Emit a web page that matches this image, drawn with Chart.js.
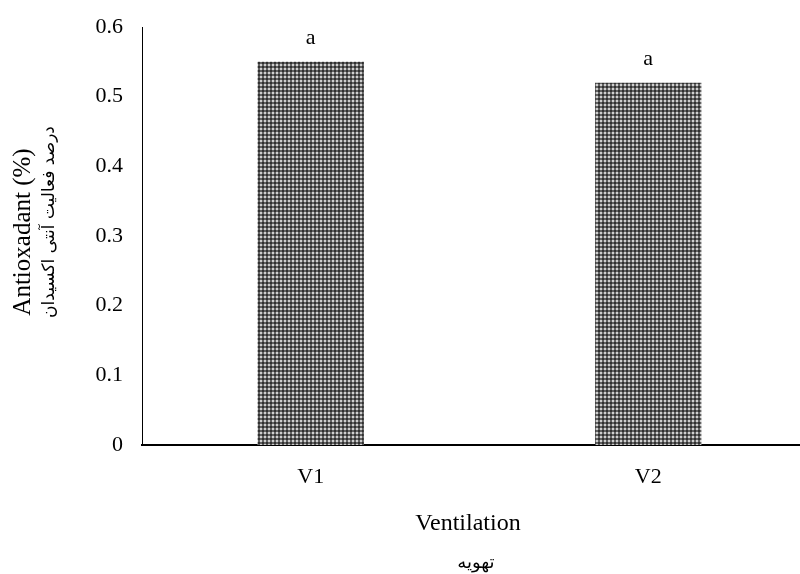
<!DOCTYPE html>
<html>
<head>
<meta charset="utf-8">
<script src="https://cdn.jsdelivr.net/npm/chart.js@4.4.1/dist/chart.umd.min.js"></script>
<style>
  html, body { margin: 0; padding: 0; background: #fff; overflow: hidden; }
  #wrap { width: 817px; height: 574px; position: relative; }
</style>
</head>
<body>
<div id="wrap"><canvas id="c"></canvas></div>
<script>
// Antioxidant activity by ventilation treatment
const categories = ['V1', 'V2'];
const antioxidant = [0.55, 0.52];
const significance = ['a', 'a'];
const yTicks = [0, 0.1, 0.2, 0.3, 0.4, 0.5, 0.6];

const xTitle = 'Ventilation';
const xTitleFa = 'تهویه';
const yTitle = 'Antioxadant (%)';
const yTitleFa = 'درصد فعالیت آنتی اکسیدان';

const SERIF = '"Liberation Serif", "Times New Roman", serif';
const ARABIC = '"DejaVu Sans", sans-serif';

// plot area edges wanted on the page
const PLOT_TOP = 27;
const PLOT_BOTTOM = 445;

// dotted grey fill for the bars
function makePattern() {
  const t = document.createElement('canvas');
  t.width = 4; t.height = 4;
  const g = t.getContext('2d');
  g.fillStyle = '#626262';
  g.fillRect(0, 0, 4, 4);
  g.fillStyle = '#cfcfcf';
  g.fillRect(0, 0, 2, 2);
  g.fillStyle = '#303030';
  g.fillRect(2, 2, 2, 2);
  return document.getElementById('c').getContext('2d').createPattern(t, 'repeat');
}

const labelsPlugin = {
  id: 'labelsPlugin',
  afterDatasetsDraw(chart) {
    const ctx = chart.ctx;
    const meta = chart.getDatasetMeta(0);
    ctx.save();
    ctx.fillStyle = '#000';
    ctx.textAlign = 'center';
    ctx.textBaseline = 'middle';
    ctx.font = '22px ' + SERIF;
    meta.data.forEach((bar, i) => {
      ctx.fillText(significance[i], bar.x, bar.y - 24);
    });
    // x axis titles
    ctx.font = '24px ' + SERIF;
    ctx.fillText(xTitle, 468, 524);
    ctx.font = '18px ' + ARABIC;
    ctx.fillText(xTitleFa, 476, 563);
    // y axis titles
    ctx.translate(23, 232);
    ctx.rotate(-Math.PI / 2);
    ctx.font = '25px ' + SERIF;
    ctx.fillText(yTitle, 0, 0);
    ctx.restore();
    ctx.save();
    ctx.fillStyle = '#000';
    ctx.textAlign = 'center';
    ctx.textBaseline = 'middle';
    ctx.translate(50, 222);
    ctx.rotate(-Math.PI / 2);
    ctx.font = '17px ' + ARABIC;
    ctx.fillText(yTitleFa, 0, 0);
    ctx.restore();
  }
};

const chart = new Chart(document.getElementById('c'), {
  type: 'bar',
  data: {
    labels: categories,
    datasets: [{
      data: antioxidant,
      backgroundColor: makePattern(),
      borderWidth: 0,
      categoryPercentage: 1,
      barPercentage: 0.315
    }]
  },
  options: {
    responsive: true,
    maintainAspectRatio: false,
    animation: false,
    devicePixelRatio: 1,
    layout: { padding: { top: PLOT_TOP, left: 0, right: 0, bottom: 0 } },
    plugins: { legend: { display: false }, tooltip: { enabled: false } },
    scales: {
      x: {
        grid: { display: false, drawTicks: false },
        border: { display: true, color: '#000', width: 2 },
        ticks: { color: '#000', font: { family: SERIF, size: 22 }, padding: 19 },
        afterFit(scale) { scale.height = 129; }
      },
      y: {
        min: 0,
        max: 0.6,
        afterBuildTicks(scale) { scale.ticks = yTicks.map(v => ({ value: v })); },
        grid: { display: false, drawTicks: false },
        border: { display: true, color: '#000', width: 1 },
        ticks: {
          color: '#000',
          font: { family: SERIF, size: 22 },
          padding: 19,
          callback: v => String(Math.round(v * 10) / 10)
        },
        afterFit(scale) {
          scale.width = 142;
          scale.paddingTop = 0;
          scale.paddingBottom = 0;
        }
      }
    }
  },
  plugins: [labelsPlugin]
});

// nudge the layout padding so the value axis spans the intended pixels
const pad = chart.options.layout.padding;
for (let k = 0; k < 3; k++) {
  const y = chart.scales.y;
  const topPx = y.getPixelForValue(yTicks[yTicks.length - 1]);
  const botPx = y.getPixelForValue(yTicks[0]);
  pad.top = Math.max(0, pad.top - (topPx - PLOT_TOP));
  pad.bottom = Math.max(0, pad.bottom + (botPx - PLOT_BOTTOM));
  chart.update();
}
</script>
</body>
</html>
